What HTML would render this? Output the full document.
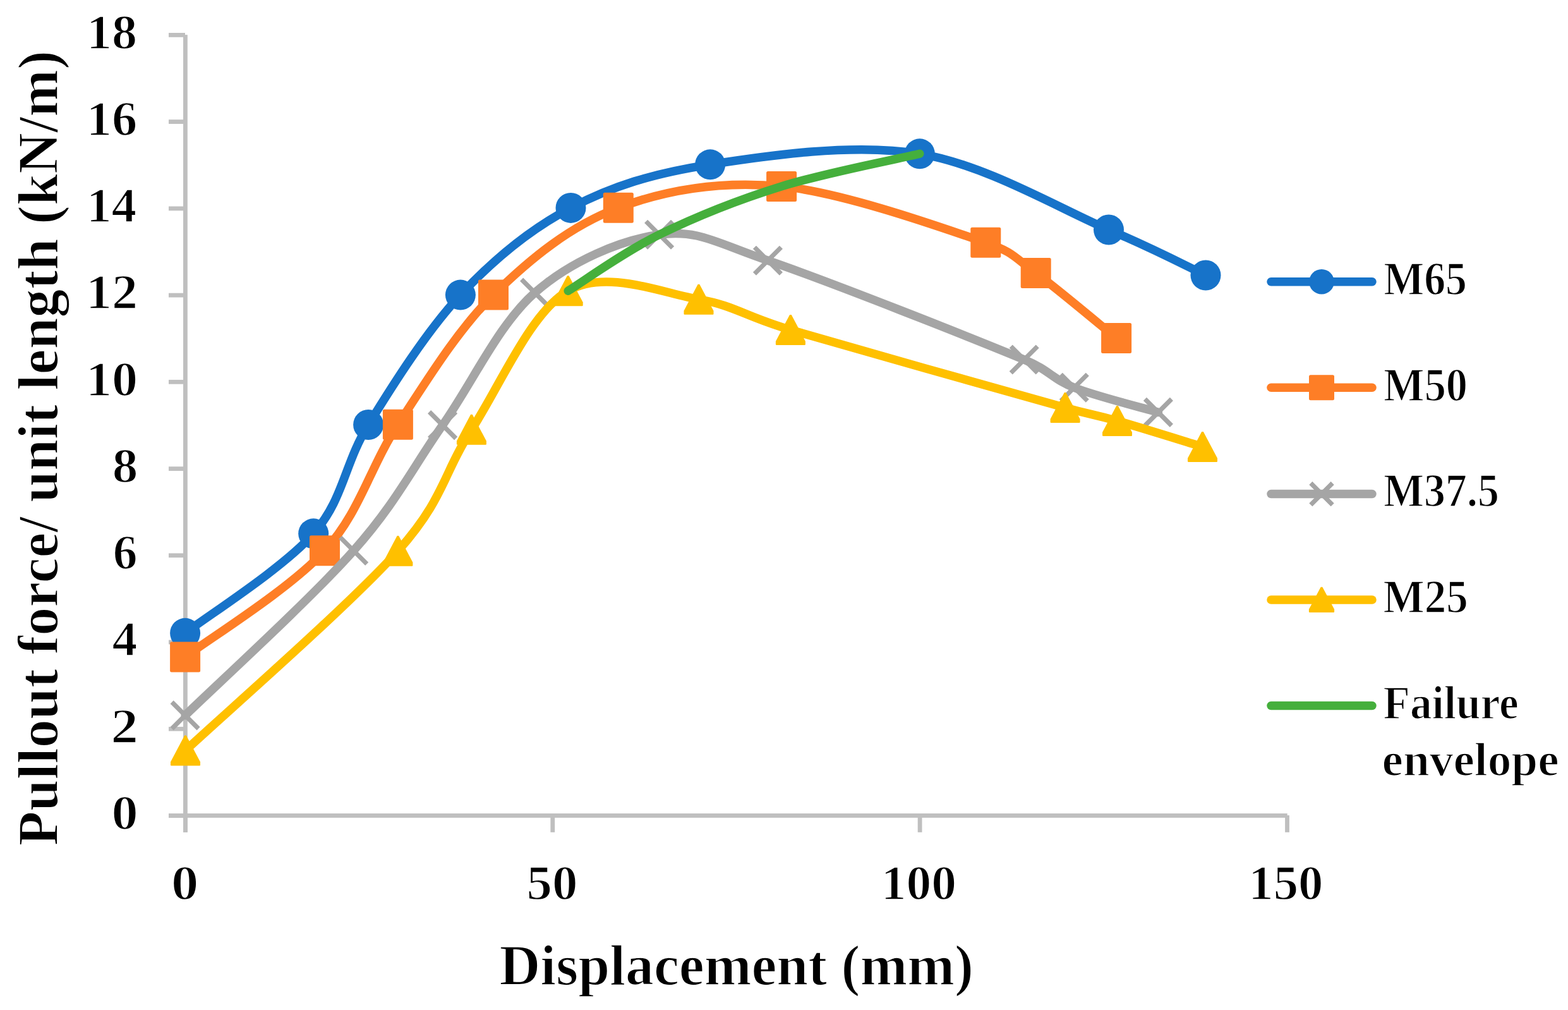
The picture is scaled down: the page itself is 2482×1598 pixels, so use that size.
<!DOCTYPE html>
<html><head><meta charset="utf-8"><title>Pullout force vs displacement</title>
<style>html,body{margin:0;padding:0;background:#fff;width:2482px;height:1598px;overflow:hidden}svg{display:block}</style>
</head><body>
<svg width="2482" height="1598" viewBox="0 0 2482 1598">
<rect width="2482" height="1598" fill="#fff"/>
<g fill="#BFBFBF">
<rect x="290" y="55.1" width="6.8" height="1261.7"/>
<rect x="267" y="1287.1" width="26" height="6.8"/>
<rect x="267" y="1149.9" width="26" height="6.8"/>
<rect x="267" y="1012.6" width="26" height="6.8"/>
<rect x="267" y="875.4" width="26" height="6.8"/>
<rect x="267" y="738.2" width="26" height="6.8"/>
<rect x="267" y="600.9" width="26" height="6.8"/>
<rect x="267" y="463.7" width="26" height="6.8"/>
<rect x="267" y="326.5" width="26" height="6.8"/>
<rect x="267" y="189.2" width="26" height="6.8"/>
<rect x="267" y="52.0" width="26" height="6.8"/>
<rect x="267" y="1287" width="1770.7" height="6.8"/>
<rect x="290.0" y="1290" width="6.8" height="26.8"/>
<rect x="871.4" y="1290" width="6.8" height="26.8"/>
<rect x="1452.7" y="1290" width="6.8" height="26.8"/>
<rect x="2034.1" y="1290" width="6.8" height="26.8"/>
</g>
<path d="M293.1,1001.8 C327.0,975.5 447.9,899.3 496.2,844.3 C544.5,789.3 544.3,735.0 583.1,672.0 C621.9,609.0 675.5,523.8 728.9,466.6 C782.3,409.4 837.6,363.3 903.5,328.9 C969.4,294.5 1032.2,274.6 1124.2,260.3 C1216.2,246.0 1350.7,226.1 1455.8,243.3 C1560.9,260.5 1679.5,331.5 1755.0,363.5 C1830.5,395.5 1882.9,423.5 1908.5,435.5" fill="none" stroke="#1773C9" stroke-width="13.5" stroke-linecap="round" stroke-linejoin="round"/>
<circle cx="293.1" cy="1001.8" r="24.0" fill="#1773C9"/>
<circle cx="496.2" cy="844.3" r="24.0" fill="#1773C9"/>
<circle cx="583.1" cy="672.0" r="24.0" fill="#1773C9"/>
<circle cx="728.9" cy="466.6" r="24.0" fill="#1773C9"/>
<circle cx="903.5" cy="328.9" r="24.0" fill="#1773C9"/>
<circle cx="1124.2" cy="260.3" r="24.0" fill="#1773C9"/>
<circle cx="1455.8" cy="243.3" r="24.0" fill="#1773C9"/>
<circle cx="1755.0" cy="363.5" r="24.0" fill="#1773C9"/>
<circle cx="1908.5" cy="435.5" r="24.0" fill="#1773C9"/>
<path d="M293.1,1039.4 C329.9,1011.4 457.9,932.6 514.0,871.3 C570.1,810.0 585.4,739.2 629.9,671.8 C674.4,604.3 722.9,523.8 781.0,466.6 C839.1,409.4 902.8,357.4 978.8,328.8 C1054.8,300.2 1140.2,285.7 1237.1,294.9 C1334.0,304.1 1493.2,360.9 1560.3,383.8 C1604.3,398.8 1605.2,406.8 1639.7,432.0 C1674.2,457.2 1745.9,517.8 1767.1,535.0" fill="none" stroke="#FE7E26" stroke-width="13.5" stroke-linecap="round" stroke-linejoin="round"/>
<rect x="269.1" y="1015.4" width="48.0" height="48.0" rx="2.5" fill="#FE7E26"/>
<rect x="490.0" y="847.3" width="48.0" height="48.0" rx="2.5" fill="#FE7E26"/>
<rect x="605.9" y="647.8" width="48.0" height="48.0" rx="2.5" fill="#FE7E26"/>
<rect x="757.0" y="442.6" width="48.0" height="48.0" rx="2.5" fill="#FE7E26"/>
<rect x="954.8" y="304.8" width="48.0" height="48.0" rx="2.5" fill="#FE7E26"/>
<rect x="1213.1" y="270.9" width="48.0" height="48.0" rx="2.5" fill="#FE7E26"/>
<rect x="1536.3" y="359.8" width="48.0" height="48.0" rx="2.5" fill="#FE7E26"/>
<rect x="1615.7" y="408.0" width="48.0" height="48.0" rx="2.5" fill="#FE7E26"/>
<rect x="1743.1" y="511.0" width="48.0" height="48.0" rx="2.5" fill="#FE7E26"/>
<path d="M293.1,1131.9 C337.5,1088.5 491.8,947.8 559.7,871.3 C627.6,794.8 652.8,740.6 700.6,672.6 C748.4,604.6 789.4,513.3 846.6,463.1 C903.8,412.9 982.1,379.8 1043.6,371.3 C1105.1,362.8 1131.9,383.6 1215.4,412.2 C1311.7,445.1 1540.4,535.5 1621.2,569.0 C1663.1,586.4 1664.9,599.4 1700.3,613.3 C1735.7,627.2 1811.2,645.9 1833.4,652.4" fill="none" stroke="#A5A5A5" stroke-width="13.5" stroke-linecap="round" stroke-linejoin="round"/>
<path d="M272.1,1110.9 L314.1,1152.9 M272.1,1152.9 L314.1,1110.9" stroke="#A5A5A5" stroke-width="7.2" fill="none"/>
<path d="M538.7,850.3 L580.7,892.3 M538.7,892.3 L580.7,850.3" stroke="#A5A5A5" stroke-width="7.2" fill="none"/>
<path d="M679.6,651.6 L721.6,693.6 M679.6,693.6 L721.6,651.6" stroke="#A5A5A5" stroke-width="7.2" fill="none"/>
<path d="M825.6,442.1 L867.6,484.1 M825.6,484.1 L867.6,442.1" stroke="#A5A5A5" stroke-width="7.2" fill="none"/>
<path d="M1022.6,350.3 L1064.6,392.3 M1022.6,392.3 L1064.6,350.3" stroke="#A5A5A5" stroke-width="7.2" fill="none"/>
<path d="M1194.4,391.2 L1236.4,433.2 M1194.4,433.2 L1236.4,391.2" stroke="#A5A5A5" stroke-width="7.2" fill="none"/>
<path d="M1600.2,548.0 L1642.2,590.0 M1600.2,590.0 L1642.2,548.0" stroke="#A5A5A5" stroke-width="7.2" fill="none"/>
<path d="M1679.3,592.3 L1721.3,634.3 M1679.3,634.3 L1721.3,592.3" stroke="#A5A5A5" stroke-width="7.2" fill="none"/>
<path d="M1812.4,631.4 L1854.4,673.4 M1812.4,673.4 L1854.4,631.4" stroke="#A5A5A5" stroke-width="7.2" fill="none"/>
<path d="M293.5,1187.4 C349.6,1134.8 554.4,956.3 629.9,871.7 C704.6,787.9 701.5,748.4 746.4,679.8 C791.3,611.2 839.3,494.5 899.2,460.2 C959.1,425.9 1047.3,463.4 1106.0,473.7 C1164.7,484.0 1177.9,500.2 1251.4,521.9 C1348.1,550.4 1599.9,620.9 1686.1,644.9 C1727.1,656.3 1732.3,655.6 1768.5,665.9 C1804.7,676.2 1881.0,700.1 1903.5,706.9" fill="none" stroke="#FFC000" stroke-width="13.5" stroke-linecap="round" stroke-linejoin="round"/>
<path d="M292.2,1163.4 L294.8,1163.4 L317.0,1205.4 L317.0,1210.2 Q317.0,1211.4 315.8,1211.4 L271.2,1211.4 Q270.0,1211.4 270.0,1210.2 L270.0,1205.4 Z" fill="#FFC000"/>
<path d="M628.6,847.7 L631.2,847.7 L653.4,889.7 L653.4,894.5 Q653.4,895.7 652.2,895.7 L607.6,895.7 Q606.4,895.7 606.4,894.5 L606.4,889.7 Z" fill="#FFC000"/>
<path d="M745.1,655.8 L747.7,655.8 L769.9,697.8 L769.9,702.6 Q769.9,703.8 768.7,703.8 L724.1,703.8 Q722.9,703.8 722.9,702.6 L722.9,697.8 Z" fill="#FFC000"/>
<path d="M897.9,436.2 L900.5,436.2 L922.7,478.2 L922.7,483.0 Q922.7,484.2 921.5,484.2 L876.9,484.2 Q875.7,484.2 875.7,483.0 L875.7,478.2 Z" fill="#FFC000"/>
<path d="M1104.7,449.7 L1107.3,449.7 L1129.5,491.7 L1129.5,496.5 Q1129.5,497.7 1128.3,497.7 L1083.7,497.7 Q1082.5,497.7 1082.5,496.5 L1082.5,491.7 Z" fill="#FFC000"/>
<path d="M1250.1,497.9 L1252.7,497.9 L1274.9,539.9 L1274.9,544.7 Q1274.9,545.9 1273.7,545.9 L1229.1,545.9 Q1227.9,545.9 1227.9,544.7 L1227.9,539.9 Z" fill="#FFC000"/>
<path d="M1684.8,620.9 L1687.4,620.9 L1709.6,662.9 L1709.6,667.7 Q1709.6,668.9 1708.4,668.9 L1663.8,668.9 Q1662.6,668.9 1662.6,667.7 L1662.6,662.9 Z" fill="#FFC000"/>
<path d="M1767.2,641.9 L1769.8,641.9 L1792.0,683.9 L1792.0,688.7 Q1792.0,689.9 1790.8,689.9 L1746.2,689.9 Q1745.0,689.9 1745.0,688.7 L1745.0,683.9 Z" fill="#FFC000"/>
<path d="M1902.2,682.9 L1904.8,682.9 L1927.0,724.9 L1927.0,729.7 Q1927.0,730.9 1925.8,730.9 L1881.2,730.9 Q1880.0,730.9 1880.0,729.7 L1880.0,724.9 Z" fill="#FFC000"/>
<path d="M899.2,460.2 C923.3,445.4 987.3,398.9 1043.6,371.3 C1099.9,343.8 1168.4,316.2 1237.1,294.9 C1305.8,273.6 1419.3,251.9 1455.8,243.3" fill="none" stroke="#45AF3C" stroke-width="13.5" stroke-linecap="round" stroke-linejoin="round"/>
<text font-family="'Liberation Serif', serif" font-weight="bold" stroke="#fff" stroke-width="1.6" font-size="79" x="176.61" y="1311.80" textLength="42.12" lengthAdjust="spacingAndGlyphs">0</text>
<text font-family="'Liberation Serif', serif" font-weight="bold" stroke="#fff" stroke-width="1.6" font-size="79" x="175.53" y="1174.57" textLength="43.32" lengthAdjust="spacingAndGlyphs">2</text>
<text font-family="'Liberation Serif', serif" font-weight="bold" stroke="#fff" stroke-width="1.6" font-size="79" x="177.57" y="1037.33" textLength="39.88" lengthAdjust="spacingAndGlyphs">4</text>
<text font-family="'Liberation Serif', serif" font-weight="bold" stroke="#fff" stroke-width="1.6" font-size="79" x="178.70" y="900.10" textLength="38.71" lengthAdjust="spacingAndGlyphs">6</text>
<text font-family="'Liberation Serif', serif" font-weight="bold" stroke="#fff" stroke-width="1.6" font-size="79" x="177.88" y="762.87" textLength="40.67" lengthAdjust="spacingAndGlyphs">8</text>
<text font-family="'Liberation Serif', serif" font-weight="bold" stroke="#fff" stroke-width="1.6" font-size="79" x="136.04" y="625.63" textLength="82.14" lengthAdjust="spacingAndGlyphs">10</text>
<text font-family="'Liberation Serif', serif" font-weight="bold" stroke="#fff" stroke-width="1.6" font-size="79" x="136.05" y="488.40" textLength="82.10" lengthAdjust="spacingAndGlyphs">12</text>
<text font-family="'Liberation Serif', serif" font-weight="bold" stroke="#fff" stroke-width="1.6" font-size="79" x="136.98" y="351.17" textLength="79.30" lengthAdjust="spacingAndGlyphs">14</text>
<text font-family="'Liberation Serif', serif" font-weight="bold" stroke="#fff" stroke-width="1.6" font-size="79" x="136.89" y="213.93" textLength="80.45" lengthAdjust="spacingAndGlyphs">16</text>
<text font-family="'Liberation Serif', serif" font-weight="bold" stroke="#fff" stroke-width="1.6" font-size="79" x="137.03" y="76.70" textLength="80.18" lengthAdjust="spacingAndGlyphs">18</text>
<text font-family="'Liberation Serif', serif" font-weight="bold" stroke="#fff" stroke-width="1.6" font-size="78.5" x="271.12" y="1422.50" textLength="43.31" lengthAdjust="spacingAndGlyphs">0</text>
<text font-family="'Liberation Serif', serif" font-weight="bold" stroke="#fff" stroke-width="1.6" font-size="78.5" x="833.44" y="1422.50" textLength="80.95" lengthAdjust="spacingAndGlyphs">50</text>
<text font-family="'Liberation Serif', serif" font-weight="bold" stroke="#fff" stroke-width="1.6" font-size="78.5" x="1394.88" y="1422.50" textLength="119.22" lengthAdjust="spacingAndGlyphs">100</text>
<text font-family="'Liberation Serif', serif" font-weight="bold" stroke="#fff" stroke-width="1.6" font-size="78.5" x="1976.31" y="1422.50" textLength="118.19" lengthAdjust="spacingAndGlyphs">150</text>
<text font-family="'Liberation Serif', serif" font-weight="bold" stroke="#fff" stroke-width="1.6" font-size="90" x="790.48" y="1557.50" textLength="750.56" lengthAdjust="spacingAndGlyphs">Displacement (mm)</text>
<text font-family="'Liberation Serif', serif" font-weight="bold" stroke="#fff" stroke-width="1.6" font-size="90" transform="translate(91.00,1338.21) rotate(-90)" textLength="1258.24" lengthAdjust="spacingAndGlyphs">Pullout force/ unit length (kN/m)</text>
<line x1="2012" y1="445.8" x2="2172" y2="445.8" stroke="#1773C9" stroke-width="13.5" stroke-linecap="round"/>
<circle cx="2092.0" cy="445.8" r="19.8" fill="#1773C9"/>
<text font-family="'Liberation Serif', serif" font-weight="bold" stroke="#fff" stroke-width="1.6" font-size="73" x="2190.17" y="466.40" textLength="131.87" lengthAdjust="spacingAndGlyphs">M65</text>
<line x1="2012" y1="613.3" x2="2172" y2="613.3" stroke="#FE7E26" stroke-width="13.5" stroke-linecap="round"/>
<rect x="2072.0" y="593.3" width="40.0" height="40.0" rx="2.5" fill="#FE7E26"/>
<text font-family="'Liberation Serif', serif" font-weight="bold" stroke="#fff" stroke-width="1.6" font-size="73" x="2190.07" y="633.80" textLength="133.02" lengthAdjust="spacingAndGlyphs">M50</text>
<line x1="2012" y1="781.6" x2="2172" y2="781.6" stroke="#A5A5A5" stroke-width="13.5" stroke-linecap="round"/>
<path d="M2074.8,764.4 L2109.2,798.8 M2074.8,798.8 L2109.2,764.4" stroke="#A5A5A5" stroke-width="7.2" fill="none"/>
<text font-family="'Liberation Serif', serif" font-weight="bold" stroke="#fff" stroke-width="1.6" font-size="73" x="2190.07" y="801.00" textLength="182.79" lengthAdjust="spacingAndGlyphs">M37.5</text>
<line x1="2012" y1="948.9" x2="2172" y2="948.9" stroke="#FFC000" stroke-width="13.5" stroke-linecap="round"/>
<path d="M2090.7,928.8 L2093.3,928.8 L2112.1,964.0 L2112.1,967.8 Q2112.1,969.0 2110.9,969.0 L2073.1,969.0 Q2071.9,969.0 2071.9,967.8 L2071.9,964.0 Z" fill="#FFC000"/>
<text font-family="'Liberation Serif', serif" font-weight="bold" stroke="#fff" stroke-width="1.6" font-size="73" x="2189.55" y="969.00" textLength="134.37" lengthAdjust="spacingAndGlyphs">M25</text>
<line x1="2012" y1="1116.4" x2="2172" y2="1116.4" stroke="#45AF3C" stroke-width="13.5" stroke-linecap="round"/>
<text font-family="'Liberation Serif', serif" font-weight="bold" stroke="#fff" stroke-width="1.6" font-size="73" x="2189.58" y="1137.30" textLength="214.24" lengthAdjust="spacingAndGlyphs">Failure</text>
<text font-family="'Liberation Serif', serif" font-weight="bold" stroke="#fff" stroke-width="1.6" font-size="73" x="2187.54" y="1227.40" textLength="280.11" lengthAdjust="spacingAndGlyphs">envelope</text>
</svg>
</body></html>
